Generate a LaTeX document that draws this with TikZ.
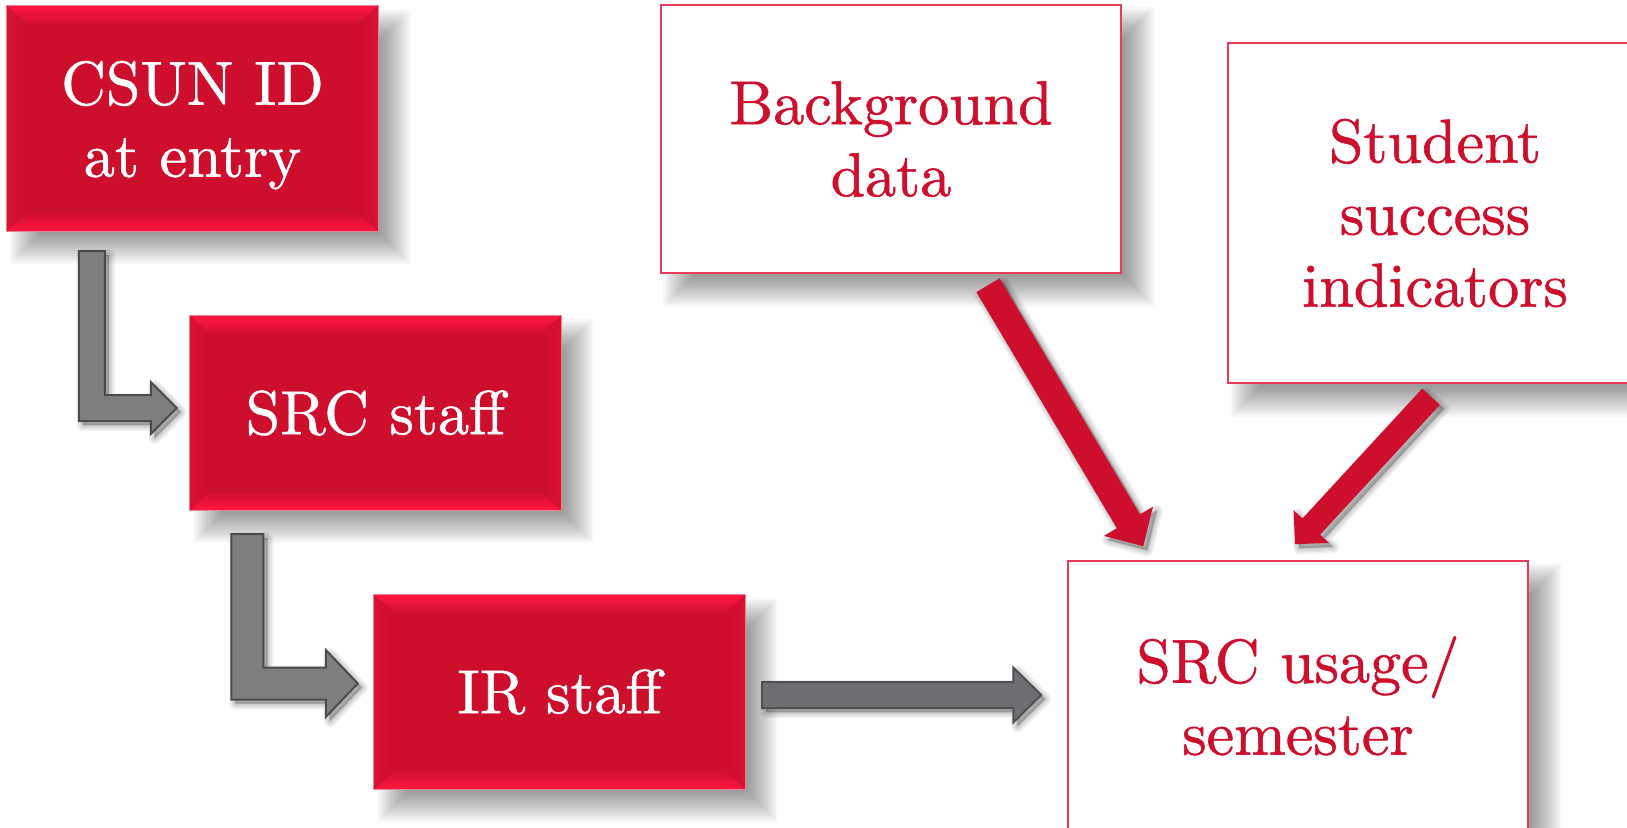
\documentclass[tikz,border=0pt]{standalone}
\usepackage{fontspec}
\setmainfont{lmroman10-regular}[Extension=.otf, FakeBold=0.9]
\usetikzlibrary{calc}
\pgfdeclarelayer{paper}
\pgfdeclarelayer{bg}
\pgfdeclarelayer{mid}
\pgfsetlayers{paper,bg,mid,main}

\definecolor{csunred}{RGB}{206,14,45}
\definecolor{bevelhi}{RGB}{255,22,64}
\definecolor{boxline}{RGB}{232,60,92}
\definecolor{redline}{RGB}{232,130,150}
\definecolor{grayfill}{RGB}{127,127,127}
\definecolor{grayline}{RGB}{75,75,75}
\definecolor{darkfill}{RGB}{110,109,114}
\definecolor{darkline}{RGB}{80,80,82}

\tikzset{
  bigfont/.style={font=\fontsize{62}{72}\selectfont},
  redbox/.style={bigfont, inner sep=0pt, minimum width=371pt, minimum height=194pt, text=white, align=center},
  whitebox/.style={bigfont, inner sep=0pt, draw=boxline, line width=1.5pt, fill=white, text=csunred, align=center},
  grayarrow/.style={fill=grayfill, draw=grayline, line width=2pt, line join=miter},
  darkarrow/.style={fill=darkfill, draw=darkline, line width=2pt, line join=miter},
  redarrow/.style={fill=csunred},
  softsh/.style={fill=black, draw=black, fill opacity=0.05, draw opacity=0.05, line width=#1, line join=round}
}

% straight block arrow: #1 name, #2 style, #3 tail, #4 tip, #5 half shaft, #6 half head, #7 head length
\newcommand\blockarrow[7]{%
  \coordinate (#1h) at ($(#4)!#7!(#3)$);
  \path[#2] ($(#3)!#5!90:(#4)$) -- ($(#1h)!#5!90:(#4)$) -- ($(#1h)!#6!90:(#4)$) -- (#4)
     -- ($(#1h)!#6!-90:(#4)$) -- ($(#1h)!#5!-90:(#4)$) -- ($(#3)!#5!-90:(#4)$) -- cycle;}

% L-shaped block arrow: #1 style, #2 top of stem, #3 tip, #4 half shaft, #5 half head, #6 head length
\newcommand\Larrow[6]{%
  \path[#1] ($(#2)+(-#4,0)$) -- ($(#2)+(#4,0)$) -- ($(#2 |- #3)+(#4,-#4)$) -- ($(#3)+(-#6,-#4)$)
     -- ($(#3)+(-#6,-#5)$) -- (#3) -- ($(#3)+(-#6,#5)$) -- ($(#3)+(-#6,#4)$)
     -- ($(#2 |- #3)+(-#4,#4)$) -- cycle;}

% soft shadow of a box node
\newcommand\boxshadow[1]{%
  \foreach \e in {-15,-13,...,15}{%
    \pgfmathsetmacro\lx{18-\e}\pgfmathsetmacro\hx{18+\e}%
    \fill[black, fill opacity=0.026] ($(#1.north west)+(\lx,\lx)$) rectangle ($(#1.south east)+(\hx,\hx)$);}}

% bevelled red box fill
\newcommand\bevel[1]{%
  \fill[csunred] (#1.north west) rectangle (#1.south east);
  \shade[top color=bevelhi, bottom color=csunred!85!bevelhi]
    (#1.north west) -- (#1.north east) -- ($(#1.north east)+(-19,17)$) -- ($(#1.north west)+(19,17)$) -- cycle;
  \shade[top color=csunred!85!bevelhi, bottom color=bevelhi]
    (#1.south west) -- (#1.south east) -- ($(#1.south east)+(-19,-17)$) -- ($(#1.south west)+(19,-17)$) -- cycle;
  \shade[left color=csunred!75!bevelhi, right color=csunred]
    (#1.north west) -- ($(#1.north west)+(19,17)$) -- ($(#1.south west)+(19,-17)$) -- (#1.south west) -- cycle;
  \shade[left color=csunred, right color=csunred!75!bevelhi]
    (#1.north east) -- ($(#1.north east)+(-19,17)$) -- ($(#1.south east)+(-19,-17)$) -- (#1.south east) -- cycle;
  \draw[redline, line width=0.8pt] (#1.north west) rectangle (#1.south east);}

\begin{document}
\begin{tikzpicture}[x=1pt, y=-1pt]
\useasboundingbox (0,0) rectangle (1627,827);
\begin{pgfonlayer}{paper}
  \fill[white] (0,0) rectangle (1627,827);
\end{pgfonlayer}

% nodes
\node[redbox, minimum height=225pt] (csun) at (192.5,118.5) {\rule{0pt}{57pt}CSUN ID\\at entry};
\node[redbox] (srcstaff) at (375.5,413) {SRC staff};
\node[redbox] (irstaff) at (559.5,692) {IR staff};
\node[whitebox, minimum width=460pt, minimum height=268pt] (bgdata) at (891,139) {Background\\data};
\node[whitebox, minimum width=414pt, minimum height=340pt] (succ) at (1435,213) {Student\\success\\indicators};
\node[whitebox, minimum width=460pt, minimum height=269.5pt] (usage) at (1298,695.75) {SRC usage/\\semester};

% connector end points
\coordinate (l1a) at ($(csun.south west)+(85,20)$);
\coordinate (l1b) at ($(srcstaff.west)+(-13,-5)$);
\coordinate (l2a) at ($(srcstaff.south west)+(57.5,24)$);
\coordinate (l2b) at ($(irstaff.west)+(-16,-8.5)$);
\coordinate (s1a) at ($(irstaff.east)+(17,3)$);
\coordinate (s1b) at ($(usage.west)+(-26,-0.75)$);
\coordinate (r1a) at ($(bgdata.south)+(97,11.5)$);
\coordinate (r1b) at ($(usage.north west)+(76,-14)$);
\coordinate (r2a) at ($(succ.south)+(-4,13)$);
\coordinate (r2b) at ($(usage.north)+(-3,-16)$);

% shadows
\begin{pgfonlayer}{bg}
  \boxshadow{csun}
  \boxshadow{srcstaff}
  \boxshadow{irstaff}
  \boxshadow{bgdata}
  \boxshadow{succ}
  \boxshadow{usage}
  \begin{scope}[transform canvas={shift={(4pt,-4pt)}}]
    \foreach \w in {12pt,9pt,6pt,3pt,1pt}{%
      \Larrow{softsh=\w}{l1a}{l1b}{13}{26}{26}
      \Larrow{softsh=\w}{l2a}{l2b}{16}{33.5}{32}
      \blockarrow{s1}{softsh=\w}{s1a}{s1b}{13pt}{27.5pt}{28pt}
      \blockarrow{r1}{softsh=\w}{r1a}{r1b}{13.5pt}{28.5pt}{29pt}
      \blockarrow{r2}{softsh=\w}{r2a}{r2b}{12pt}{24pt}{24pt}
    }
  \end{scope}
\end{pgfonlayer}

% red box bodies
\begin{pgfonlayer}{mid}
  \bevel{csun}
  \bevel{srcstaff}
  \bevel{irstaff}
\end{pgfonlayer}

% connectors
\Larrow{grayarrow}{l1a}{l1b}{13}{26}{26}
\Larrow{grayarrow}{l2a}{l2b}{16}{33.5}{32}
\blockarrow{s1}{darkarrow}{s1a}{s1b}{13pt}{27.5pt}{28pt}
\blockarrow{r1}{redarrow}{r1a}{r1b}{13.5pt}{28.5pt}{29pt}
\blockarrow{r2}{redarrow}{r2a}{r2b}{12pt}{24pt}{24pt}
\end{tikzpicture}
\end{document}
